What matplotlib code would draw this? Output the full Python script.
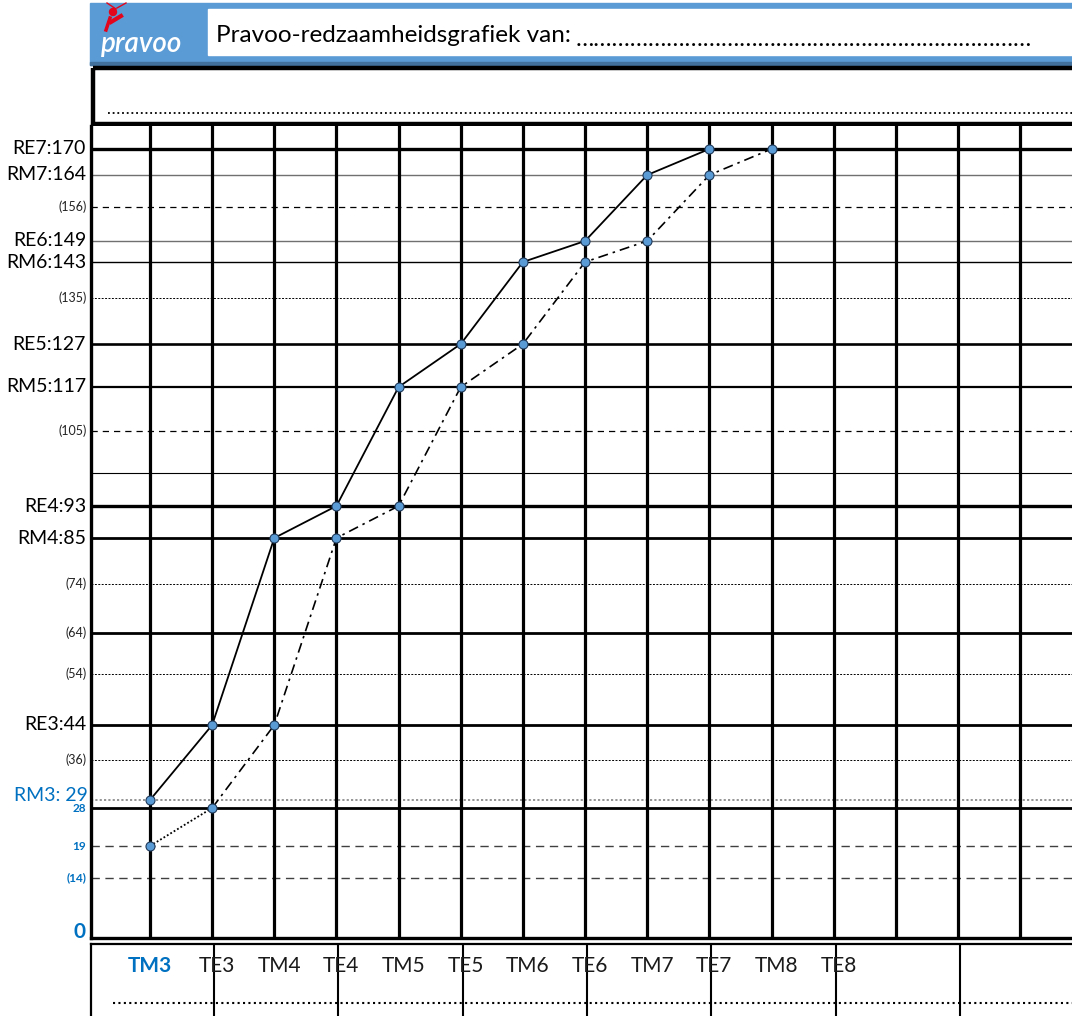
import matplotlib.pyplot as plt
import matplotlib.patches as mpatches
import numpy as np

plt.rcParams['font.family'] = ['Lato', 'DejaVu Sans']

# --- data ---------------------------------------------------------------
columns = ['TM3', 'TE3', 'TM4', 'TE4', 'TM5', 'TE5', 'TM6', 'TE6', 'TM7', 'TE7', 'TM8', 'TE8']
solid_vals = [29, 44, 85, 93, 117, 127, 143, 149, 164, 170]          # TM3 .. TE7
dashdot_vals = [28, 44, 85, 93, 117, 127, 143, 149, 164, 170]        # TE3 .. TM8
start_val = 19                                                        # TM3, dotted to TE3

# reference lines: (value, label)
big_labels = [(170, 'RE7:170'), (164, 'RM7:164'), (149, 'RE6:149'), (143, 'RM6:143'),
              (127, 'RE5:127'), (117, 'RM5:117'), (93, 'RE4:93'), (85, 'RM4:85'), (44, 'RE3:44')]
small_labels = [(156, '(156)'), (135, '(135)'), (105, '(105)'), (74, '(74)'),
                (64, '(64)'), (54, '(54)'), (36, '(36)')]
blue_small = [(28, '28'), (19, '19'), (14, '(14)')]

# the form's vertical axis is not linear: anchor values and their row heights
axis_vals = [0, 14, 19, 28, 29, 36, 44, 54, 64, 74, 85, 93, 99, 105, 117, 127, 135, 143, 149, 156, 164, 170, 176]
axis_rows = [938, 878, 846, 808, 800, 760, 725, 674, 633, 584, 538, 506, 473, 431, 387, 344, 298, 262, 241, 207, 175, 149, 126]
row_h = [938 - r for r in axis_rows]

W, H = 1072, 1016
fig = plt.figure(figsize=(W / 100, H / 100), dpi=100)


def fbox(x0, y0, x1, y1):
    # pixel box (top-left origin) -> figure fraction
    return [x0 / W, 1 - y1 / H, (x1 - x0) / W, (y1 - y0) / H]


# --- main grid ----------------------------------------------------------
ax = fig.add_axes(fbox(91, 126, W, 938))
fwd = lambda v: np.interp(v, axis_vals, row_h)
inv = lambda h: np.interp(h, row_h, axis_vals)
ax.set_yscale('function', functions=(fwd, inv))
step = 62.15
x0 = 150 - step
ax.set_xlim((91 - x0) / step, (W - x0) / step)
ax.set_ylim(0, 176)
ax.set_xticks([])
ax.set_yticks([])
ax.yaxis.set_minor_locator(plt.NullLocator())
for s in ['top', 'right']:
    ax.spines[s].set_visible(False)
ax.spines['left'].set_linewidth(2.4)
ax.spines['bottom'].set_linewidth(2.4)

hstyles = {
    170: dict(color='black', lw=2.4),
    164: dict(color='#707070', lw=1.0),
    156: dict(color='black', lw=0.9, ls=(0, (5, 4))),
    149: dict(color='#707070', lw=1.0),
    143: dict(color='black', lw=1.0),
    135: dict(color='black', lw=0.7, ls=(0, (2, 1.5))),
    127: dict(color='black', lw=1.9),
    117: dict(color='black', lw=1.6),
    105: dict(color='black', lw=0.9, ls=(0, (5, 4))),
    99: dict(color='black', lw=0.8),
    93: dict(color='black', lw=2.4),
    85: dict(color='black', lw=2.0),
    74: dict(color='black', lw=0.7, ls=(0, (2, 1.5))),
    64: dict(color='black', lw=2.0),
    54: dict(color='black', lw=0.7, ls=(0, (2, 1.5))),
    44: dict(color='black', lw=2.0),
    36: dict(color='black', lw=0.7, ls=(0, (2, 1.5))),
    29: dict(color='#8c8c8c', lw=1.3, ls=(0, (1.2, 1.2))),
    28: dict(color='black', lw=2.0),
    19: dict(color='#404040', lw=1.0, ls=(0, (6, 4))),
    14: dict(color='#404040', lw=1.0, ls=(0, (6, 4))),
}
for v, st in hstyles.items():
    ax.axhline(v, zorder=1, **st)
for c in range(1, 16):
    ax.axvline(c, color='black', lw=2.3, zorder=1)

xs = np.arange(1, len(columns) + 1)
ax.plot(xs[:len(solid_vals)], solid_vals, color='black', lw=1.3, zorder=3)
ax.plot(xs[1:1 + len(dashdot_vals)], dashdot_vals, color='black', lw=1.2,
        ls=(0, (6, 3, 1.5, 3)), zorder=3)
ax.plot([xs[0], xs[1]], [start_val, dashdot_vals[0]], color='black', lw=1.3,
        ls=(0, (1, 1.2)), zorder=3)
mk = dict(ls='none', marker='o', ms=6.5, mfc='#5b9bd5', mec='#1f3a5a', mew=0.8, zorder=4)
ax.plot(xs[:len(solid_vals)], solid_vals, **mk)
ax.plot(xs[1:1 + len(dashdot_vals)], dashdot_vals, **mk)
ax.plot([xs[0]], [start_val], **mk)

# y labels
lab = dict(transform=ax.get_yaxis_transform(), ha='right', va='center', clip_on=False)
for v, t in big_labels:
    ax.text(-0.005, v, t, fontsize=14, color='black', **lab)
for v, t in small_labels:
    ax.text(-0.004, v, t, fontsize=9, color='#222222', **lab)
ax.text(-0.003, 29.8, 'RM3: 29', fontsize=14, color='#0070c0', **lab)
for v, t in blue_small:
    ax.text(-0.005, v, t, fontsize=8.5, color='#0070c0', fontweight='bold', **lab)
ax.text(-0.006, 1.5, '0', fontsize=15, color='#0070c0', fontweight='bold', **lab)

# --- bottom box with column names ------------------------------------------
bx = fig.add_axes(fbox(91, 944, W, H))
bx.set_xlim(ax.get_xlim())
bx.set_ylim(0, 1)
bx.set_xticks([])
bx.set_yticks([])
bx.spines['right'].set_visible(False)
bx.spines['bottom'].set_visible(False)
for s in ['left', 'top']:
    bx.spines[s].set_linewidth(1.6)
for c in range(2, 15, 2):
    bx.axvline(c + 0.03, color='black', lw=1.5)
bx.axhline(0.18, xmin=0.022, xmax=1, color='black', lw=1.5, ls=(0, (1, 1.6)))
for i, name in enumerate(columns):
    if i == 0:
        bx.text(xs[i], 0.7, name, fontsize=15, color='#0070c0', fontweight='bold',
                ha='center', va='center')
    else:
        bx.text(xs[i] + 0.08, 0.7, name, fontsize=15, color='#1a1a1a',
                ha='center', va='center')

# --- header ---------------------------------------------------------------
hdr = fig.add_axes([0, 0, 1, 1], zorder=-1)
hdr.set_xlim(0, W)
hdr.set_ylim(H, 0)
hdr.axis('off')
hdr.add_patch(mpatches.Rectangle((90, 3), W - 90, 62, color='#5b9bd5'))
hdr.add_patch(mpatches.Rectangle((90, 62), W - 90, 3, color='#41719c'))
hdr.add_patch(mpatches.Rectangle((208, 9), W - 208, 46, color='white'))
hdr.text(216, 36, 'Pravoo-redzaamheidsgrafiek van:', fontsize=17.5,
         va='center', ha='left', color='black')
hdr.text(576, 40, '\u2026' * 25, fontsize=17.5, va='center', ha='left', color='black')
hdr.add_patch(mpatches.Rectangle((93, 68), W, 56, fill=False, lw=3.2, ec='black'))
hdr.plot([108, W], [113, 113], color='black', lw=1.3, ls=(0, (1, 1.6)))
# logo
hdr.text(101, 44, 'pravoo', fontsize=20, color='white', style='italic',
         fontweight='semibold', va='center', ha='left')
hdr.plot([111, 121], [22, 16], color='#e3051b', lw=3)
hdr.plot([117, 126], [8, 3], color='#e3051b', lw=1)
hdr.plot([116, 107], [9, 3], color='#e3051b', lw=1)
hdr.add_patch(mpatches.Circle((113, 12), 3.5, color='#e3051b'))
hdr.plot([110, 106], [18, 30], color='#e3051b', lw=2.5)

fig.savefig('out.png', dpi=100)
